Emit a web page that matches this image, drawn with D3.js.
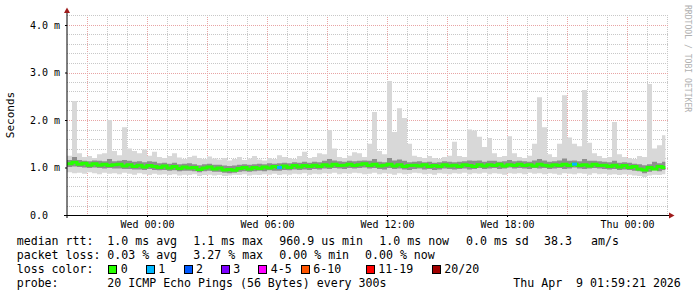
<!DOCTYPE html>
<html>
<head>
<meta charset="utf-8">
<script src="https://cdn.jsdelivr.net/npm/d3@7"></script>
<style>
body { margin: 0; background: #fff; }
svg { display: block; }
text { font-family: "DejaVu Sans Mono", monospace; white-space: pre; }
</style>
</head>
<body>
<script>
// 15 minute slots, Tue 20:00 -> Thu 01:55
var startTime = new Date(2026, 3, 7, 20, 0, 0);
var endTime = new Date(2026, 3, 9, 2, 0, 0);
var dataEnd = new Date(2026, 3, 9, 1, 55, 0);
var stepMinutes = 15;

// median rtt, ms
var median = [
  1.08, 1.11, 1.07, 1.09, 1.05, 1.08, 1.05, 1.07, 1.04, 1.06,
  1.07, 1.03, 1.06, 1.02, 1.05, 1.01, 1.04, 1.02, 1.00, 1.03,
  0.99, 1.02, 0.98, 1.01, 0.99, 1.00, 0.96, 0.99, 1.01, 0.97,
  0.99, 0.95, 0.96, 0.94, 0.98, 1.00, 0.97, 1.00, 0.98, 1.01,
  0.99, 1.02, 1.00, 1.03, 1.00, 1.04, 1.01, 1.04, 1.02, 1.05,
  1.02, 1.06, 1.03, 1.07, 1.04, 1.05, 1.07, 1.04, 1.06, 1.08,
  1.04, 1.07, 1.03, 1.05, 1.07, 1.03, 1.06, 1.02, 1.04, 1.05,
  1.03, 1.06, 1.02, 1.04, 1.02, 1.06, 1.03, 1.05, 1.02, 1.06,
  1.04, 1.02, 1.06, 1.03, 1.06, 1.04, 1.07, 1.03, 1.06, 1.04,
  1.07, 1.04, 1.06, 1.03, 1.07, 1.05, 1.03, 1.06, 1.04, 1.07,
  1.04, 1.07, 1.04, 1.06, 1.03, 1.07, 1.04, 1.05, 1.02, 1.05,
  1.01, 1.04, 1.00, 1.02, 0.97, 0.95, 1.00, 0.97, 1.02, 1.00
];
// fastest ping of the slot
var pingMin = [
  0.90, 0.88, 0.89, 0.87, 0.90, 0.88, 0.86, 0.89, 0.87, 0.88,
  0.86, 0.89, 0.87, 0.85, 0.88, 0.86, 0.84, 0.87, 0.85, 0.86,
  0.84, 0.86, 0.83, 0.85, 0.84, 0.86, 0.82, 0.84, 0.85, 0.83,
  0.84, 0.82, 0.83, 0.85, 0.84, 0.86, 0.83, 0.85, 0.84, 0.86,
  0.85, 0.87, 0.84, 0.86, 0.85, 0.87, 0.86, 0.88, 0.85, 0.87,
  0.86, 0.88, 0.87, 0.89, 0.86, 0.88, 0.87, 0.89, 0.88, 0.86,
  0.87, 0.89, 0.86, 0.88, 0.87, 0.85, 0.88, 0.86, 0.87, 0.89,
  0.88, 0.86, 0.87, 0.85, 0.88, 0.87, 0.86, 0.88, 0.87, 0.89,
  0.86, 0.88, 0.87, 0.89, 0.86, 0.88, 0.87, 0.85, 0.88, 0.87,
  0.88, 0.86, 0.89, 0.87, 0.88, 0.86, 0.88, 0.87, 0.85, 0.88,
  0.87, 0.86, 0.88, 0.87, 0.85, 0.88, 0.86, 0.87, 0.85, 0.86,
  0.84, 0.86, 0.85, 0.83, 0.82, 0.80, 0.83, 0.85, 0.84, 0.86
];
// slowest ping of the slot
var pingMax = [
  1.25, 2.40, 1.30, 1.22, 1.24, 1.20, 1.28, 1.30, 2.00, 1.35,
  1.26, 1.85, 1.40, 1.35, 1.30, 1.38, 1.25, 1.33, 1.22, 1.20,
  1.24, 1.30, 1.21, 1.18, 1.22, 1.25, 1.20, 1.18, 1.23, 1.19,
  1.17, 1.20, 1.15, 1.18, 1.22, 1.16, 1.19, 1.24, 1.17, 1.15,
  1.20, 1.18, 1.26, 1.22, 1.20, 1.18, 1.24, 1.33, 1.20, 1.22,
  1.30, 1.28, 1.79, 1.40, 1.22, 1.20, 1.25, 1.32, 1.30, 1.22,
  1.50, 2.17, 1.35, 1.28, 2.82, 1.75, 2.25, 2.04, 1.50, 1.25,
  1.22, 1.20, 1.24, 1.20, 1.18, 1.22, 1.25, 1.54, 1.24, 1.22,
  1.80, 1.78, 1.65, 1.43, 1.62, 1.30, 1.22, 1.24, 1.66, 1.30,
  1.22, 1.20, 1.25, 1.50, 2.48, 1.85, 1.28, 1.22, 1.50, 2.52,
  1.63, 1.50, 1.45, 2.63, 1.52, 1.30, 1.24, 1.20, 1.22, 1.96,
  1.28, 1.22, 1.20, 1.18, 1.24, 1.22, 2.76, 1.40, 1.47, 1.68
];
// inner smoke (middle pings)
var pingLo = [
  1.01, 1.02, 1.01, 1.00, 0.99, 1.00, 0.99, 0.98, 0.99, 0.98,
  0.98, 0.97, 0.97, 0.96, 0.96, 0.95, 0.97, 0.95, 0.94, 0.95,
  0.93, 0.94, 0.92, 0.93, 0.93, 0.92, 0.90, 0.92, 0.93, 0.91,
  0.91, 0.89, 0.88, 0.89, 0.91, 0.92, 0.91, 0.92, 0.93, 0.92,
  0.94, 0.93, 0.93, 0.95, 0.94, 0.96, 0.95, 0.96, 0.95, 0.97,
  0.96, 0.98, 0.97, 0.99, 0.98, 0.97, 0.99, 0.98, 0.99, 1.00,
  0.98, 0.99, 0.97, 0.96, 0.99, 0.97, 0.98, 0.96, 0.95, 0.97,
  0.98, 0.96, 0.97, 0.95, 0.96, 0.98, 0.97, 0.96, 0.97, 0.98,
  0.96, 0.97, 0.99, 0.97, 0.98, 0.99, 0.97, 0.98, 1.00, 0.98,
  0.99, 0.98, 0.97, 0.99, 0.98, 0.99, 0.97, 0.98, 0.99, 0.97,
  0.98, 1.00, 0.98, 0.97, 0.98, 0.99, 0.98, 0.97, 0.96, 0.97,
  0.95, 0.96, 0.95, 0.93, 0.92, 0.88, 0.91, 0.94, 0.92, 0.95
];
var pingHi = [
  1.16, 1.22, 1.16, 1.14, 1.13, 1.15, 1.14, 1.13, 1.18, 1.13,
  1.14, 1.16, 1.14, 1.12, 1.13, 1.11, 1.13, 1.12, 1.09, 1.10,
  1.08, 1.10, 1.07, 1.08, 1.09, 1.07, 1.05, 1.07, 1.08, 1.06,
  1.06, 1.04, 1.03, 1.04, 1.06, 1.07, 1.06, 1.07, 1.08, 1.07,
  1.09, 1.08, 1.09, 1.10, 1.09, 1.11, 1.10, 1.12, 1.10, 1.12,
  1.11, 1.14, 1.18, 1.15, 1.13, 1.12, 1.14, 1.13, 1.14, 1.15,
  1.14, 1.18, 1.12, 1.11, 1.20, 1.15, 1.17, 1.14, 1.11, 1.12,
  1.13, 1.11, 1.12, 1.10, 1.11, 1.13, 1.12, 1.11, 1.12, 1.13,
  1.15, 1.14, 1.15, 1.12, 1.14, 1.14, 1.12, 1.13, 1.16, 1.13,
  1.14, 1.13, 1.12, 1.15, 1.18, 1.15, 1.12, 1.13, 1.15, 1.19,
  1.14, 1.15, 1.13, 1.18, 1.14, 1.14, 1.13, 1.12, 1.11, 1.14,
  1.10, 1.11, 1.10, 1.08, 1.07, 1.05, 1.07, 1.12, 1.09, 1.12
];
// [slot, lost pings]
var lossSlots = [[42, 1], [101, 1]];

var yTicks = [0, 1, 2, 3, 4];
var lossLabels = ['0', '1', '2', '3', '4-5', '6-10', '11-19', '20/20'];
var lossColors = ['#26ff00', '#00b8ff', '#0059ff', '#7e00ff', '#ff00ff', '#ff5500', '#ff0000', '#a10000'];
var lossLimits = [0, 1, 2, 3, 5, 10, 19, 20];

var rttStats = ['1.0 ms avg', '1.1 ms max', '960.9 us min', '1.0 ms now', '0.0 ms sd', '38.3', 'am/s'];
var lossStats = ['0.03 % avg', '3.27 % max', '0.00 % min', '0.00 % now'];
var probeText = '20 ICMP Echo Pings (56 Bytes) every 300s';
var stampText = 'Thu Apr  9 01:59:21 2026';

// layout
var W = 697, H = 297;
var plot = { left: 67, right: 667, top: 15, bottom: 215 };
var rttX = [107.3, 193.3, 279.3, 379.3, 466, 544, 591];
var lossX = [107.3, 193.3, 279.3, 365];
var lossLegendX = [120.7, 158.3, 196, 233.3, 270.7, 313.3, 378.3, 444.3];
var rowY = [244.5, 258.5, 272.5, 286.5];

var svg = d3.select('body').append('svg').attr('width', W).attr('height', H);
svg.append('rect').attr('width', W).attr('height', H).attr('fill', '#fff');

var x = d3.scaleTime().domain([startTime, endTime]).range([plot.left, plot.right]);
var y = d3.scaleLinear().domain([0, 200 / 47.5]).range([plot.bottom, plot.top]);

function lossColor(n) {
    for (var i = 0; i < lossLimits.length; i++) {
        if (n <= lossLimits[i]) return lossColors[i];
    }
    return lossColors[lossColors.length - 1];
}

// grid
var grid = svg.append('g').attr('shape-rendering', 'crispEdges').attr('stroke-dasharray', '1,1');
var hours = d3.timeHour.range(d3.timeHour.offset(startTime, 1), d3.timeHour.offset(endTime, 1));
hours.forEach(function (h) {
    var px = Math.round(x(h)) + 0.5;
    grid.append('line')
        .attr('x1', px).attr('x2', px)
        .attr('y1', plot.top).attr('y2', plot.bottom)
        .attr('stroke', h.getHours() % 3 == 0 ? '#e8a4a4' : '#c8c8c8');
});
d3.range(1, 22).forEach(function (k) {
    var py = Math.round(y(k * 0.2)) + 0.5;
    grid.append('line')
        .attr('x1', plot.left).attr('x2', plot.right + 2)
        .attr('y1', py).attr('y2', py)
        .attr('stroke', k % 5 == 0 ? '#e8a4a4' : '#c8c8c8');
});

// smoke
var slots = median.map(function (m, i) {
    return {
        t: d3.timeMinute.offset(startTime, i * stepMinutes),
        med: m, min: pingMin[i], max: pingMax[i], lo: pingLo[i], hi: pingHi[i]
    };
});
var last = slots[slots.length - 1];
var pts = slots.concat([Object.assign({}, last, { t: dataEnd })]);

var outer = d3.area().curve(d3.curveStepAfter)
    .x(function (d) { return x(d.t); })
    .y0(function (d) { return y(d.min); })
    .y1(function (d) { return y(d.max); });
var inner = d3.area().curve(d3.curveStepAfter)
    .x(function (d) { return x(d.t); })
    .y0(function (d) { return y(d.lo); })
    .y1(function (d) { return y(d.hi); });
var medLine = d3.line().curve(d3.curveStepAfter)
    .x(function (d) { return x(d.t); })
    .y(function (d) { return y(d.med); });

svg.append('path').attr('d', outer(pts)).attr('fill', '#d8d8d8');
svg.append('path').attr('d', inner(pts)).attr('fill', '#8e8e8e');
svg.append('path').attr('d', medLine(pts)).attr('fill', 'none')
    .attr('stroke', lossColor(0)).attr('stroke-width', 3);

lossSlots.forEach(function (l) {
    var s = pts[l[0]], n = pts[l[0] + 1];
    svg.append('line')
        .attr('x1', x(s.t)).attr('x2', x(n.t))
        .attr('y1', y(s.med)).attr('y2', y(s.med))
        .attr('stroke', lossColor(l[1])).attr('stroke-width', 3);
});

// axes
var yAxis = d3.axisLeft(y).tickValues(yTicks).tickSize(2).tickPadding(5)
    .tickFormat(function (d) { return d === 0 ? '0.0  ' : d.toFixed(1) + ' m'; });
var gy = svg.append('g').attr('transform', 'translate(' + plot.left + ',0)').call(yAxis);
gy.select('.domain').remove();
gy.selectAll('text').attr('font-size', 10).attr('fill', '#000')
    .attr('font-family', '"DejaVu Sans Mono", monospace');

var xAxis = d3.axisBottom(x)
    .tickValues(d3.timeHour.every(6).range(startTime, endTime))
    .tickFormat(d3.timeFormat('%a %H:%M'))
    .tickSize(2).tickPadding(4);
var gx = svg.append('g').attr('transform', 'translate(0,' + plot.bottom + ')').call(xAxis);
gx.select('.domain').remove();
gx.selectAll('text').attr('font-size', 10).attr('fill', '#000')
    .attr('font-family', '"DejaVu Sans Mono", monospace');

svg.append('line').attr('x1', plot.left).attr('x2', plot.left)
    .attr('y1', plot.bottom + 3).attr('y2', 10)
    .attr('stroke', '#000').attr('stroke-width', 1);
svg.append('line').attr('x1', plot.left - 3).attr('x2', 670)
    .attr('y1', plot.bottom + 0.5).attr('y2', plot.bottom + 0.5)
    .attr('stroke', '#000').attr('stroke-width', 1);
svg.append('path').attr('d', 'M64,13L70,13L67,7.5Z').attr('fill', '#9e1b1b');
svg.append('path').attr('d', 'M669,212.5L669,218.5L674.5,215.5Z').attr('fill', '#9e1b1b');

svg.append('text')
    .attr('transform', 'translate(14,' + (plot.top + plot.bottom) / 2 + ') rotate(-90)')
    .attr('text-anchor', 'middle')
    .attr('font-size', 11)
    .text('Seconds');

svg.append('text')
    .attr('transform', 'translate(685,5) rotate(90)')
    .attr('font-size', 8.1)
    .attr('fill', '#b0b0b0')
    .text('RRDTOOL / TOBI OETIKER');

// legend
var legend = svg.append('g').attr('font-size', 11.6).attr('fill', '#000');
function put(str, px, py) {
    legend.append('text').attr('x', px).attr('y', py).text(str);
}
put('median rtt:', 16.7, rowY[0]);
rttStats.forEach(function (s, i) { put(s, rttX[i], rowY[0]); });
put('packet loss:', 16.7, rowY[1]);
lossStats.forEach(function (s, i) { put(s, lossX[i], rowY[1]); });
put('loss color:', 16.7, rowY[2]);
lossLabels.forEach(function (s, i) {
    legend.append('rect')
        .attr('x', lossLegendX[i] - 12) .attr('y', rowY[2] - 7.5)
        .attr('width', 8).attr('height', 8)
        .attr('fill', lossColors[i]).attr('stroke', '#000').attr('stroke-width', 1)
        .attr('shape-rendering', 'crispEdges');
    put(s, lossLegendX[i], rowY[2]);
});
put('probe:', 16.7, rowY[3]);
put(probeText, 107.3, rowY[3]);
put(stampText, 513.3, rowY[3]);
</script>
</body>
</html>
